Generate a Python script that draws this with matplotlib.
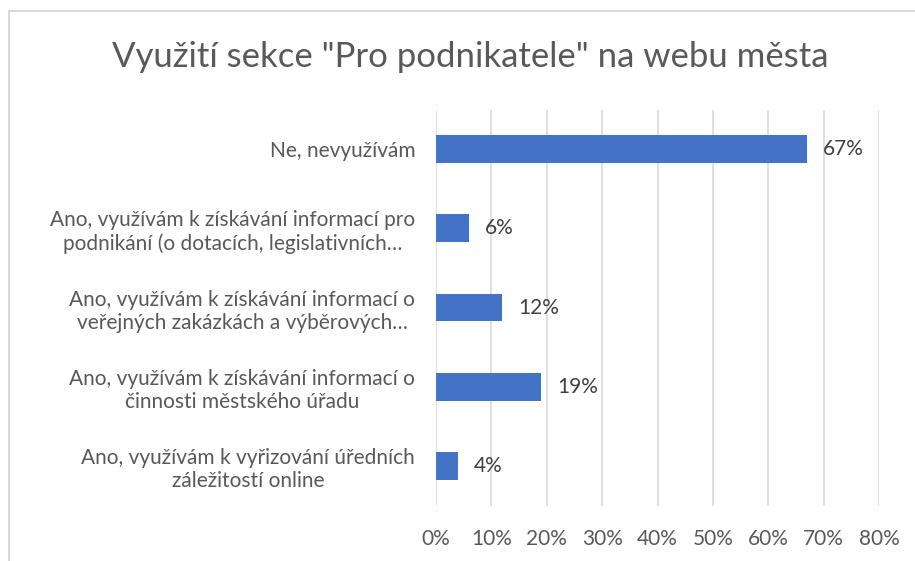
import matplotlib
matplotlib.use("Agg")
import matplotlib.pyplot as plt
from matplotlib.patches import Rectangle
from matplotlib.ticker import FuncFormatter

title = 'Využití sekce "Pro podnikatele" na webu města'
categories = [
    "Ne, nevyužívám",
    "Ano, využívám k získávání informací pro\npodnikání (o dotacích, legislativních…",
    "Ano, využívám k získávání informací o\nveřejných zakázkách a výběrových…",
    "Ano, využívám k získávání informací o\nčinnosti městského úřadu",
    "Ano, využívám k vyřizování úředních\nzáležitostí online",
]
values = [67, 6, 12, 19, 4]
x_ticks = [0, 10, 20, 30, 40, 50, 60, 70, 80]

plt.rcParams["font.family"] = ["Lato", "DejaVu Sans"]
text_color = "#595959"
bar_color = "#4472C4"
grid_color = "#D9D9D9"

fig = plt.figure(figsize=(9.15, 5.61), dpi=100)
W, H = 915, 561
ax = fig.add_axes([436 / W, 1 - 505.5 / H, (879 - 436) / W, (505.5 - 109.5) / H])

pos = list(range(len(categories)))
ax.barh(pos, values, height=0.35, color=bar_color, zorder=3)
for p, v in zip(pos, values):
    ax.text(v + 2.9, p, f"{v}%", va="center", ha="left", fontsize=15, color="#404040")

ax.set_xlim(0, 80)
ax.set_ylim(len(categories) - 0.5, -0.5)
ax.set_xticks(x_ticks)
ax.xaxis.set_major_formatter(FuncFormatter(lambda v, _: f"{v:.0f}%"))
ax.set_yticks(pos)
ax.set_yticklabels(categories, fontsize=15, color=text_color, ha="right",
                   multialignment="center", linespacing=1.2)
ax.tick_params(axis="y", length=0, pad=15)
ax.tick_params(axis="x", length=0, pad=17, labelsize=15, labelcolor=text_color)
ax.grid(axis="x", color=grid_color, linewidth=1.2, zorder=0)
for s in ax.spines.values():
    s.set_visible(False)

fig.text(470 / W, 1 - 57 / H, title, ha="center", va="center", fontsize=25, color=text_color)

fig.patches.append(Rectangle((8.5 / W, -0.1), 1.2, 1 - 11 / H + 0.1, transform=fig.transFigure,
                             fill=False, edgecolor=grid_color, linewidth=1.5))

fig.savefig("out.png", dpi=100)
